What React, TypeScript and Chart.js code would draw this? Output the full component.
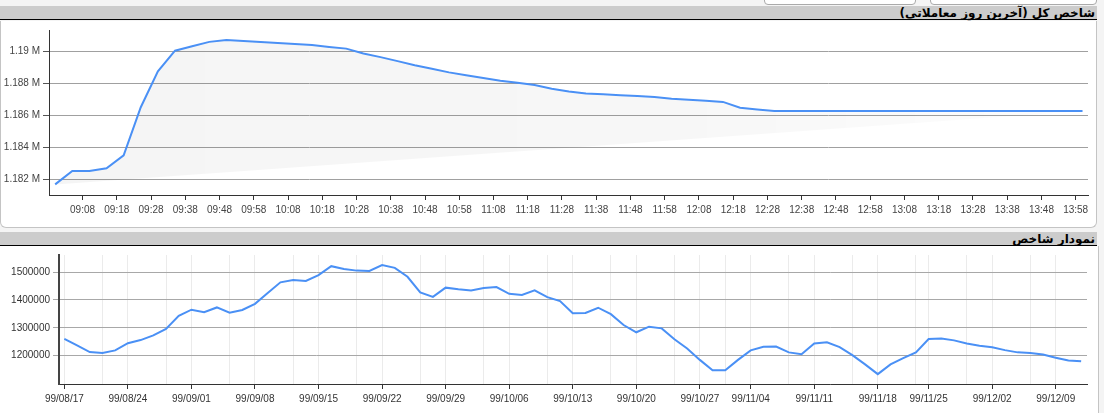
import React, { useEffect, useRef } from 'react';
import { Chart, registerables } from 'chart.js';

Chart.register(...registerables);

const TOP_TITLE = 'شاخص کل (آخرین روز معاملاتی)';
const BOTTOM_TITLE = 'نمودار شاخص';

const INTRADAY_TIMES = [
  '09:00', '09:05', '09:10', '09:15', '09:20', '09:25', '09:30', '09:35', '09:40', '09:45',
  '09:50', '09:55', '10:00', '10:05', '10:10', '10:15', '10:20', '10:25', '10:30', '10:35',
  '10:40', '10:45', '10:50', '10:55', '11:00', '11:05', '11:10', '11:15', '11:20', '11:25',
  '11:30', '11:35', '11:40', '11:45', '11:50', '11:55', '12:00', '12:05', '12:10', '12:15',
  '12:20', '12:25', '12:30', '12:35', '12:40', '12:45', '12:50', '12:55', '13:00', '13:05',
  '13:10', '13:15', '13:20', '13:25', '13:30', '13:35', '13:40', '13:45', '13:50', '13:55',
  '14:00',
];
const INTRADAY_VALUES = [
  1181690, 1182530, 1182530, 1182700, 1183500, 1186500, 1188730, 1190020, 1190300, 1190570,
  1190680, 1190620, 1190560, 1190500, 1190440, 1190370, 1190250, 1190150, 1189850, 1189620,
  1189370, 1189120, 1188900, 1188670, 1188490, 1188320, 1188150, 1188020, 1187880, 1187650,
  1187480, 1187360, 1187310, 1187250, 1187200, 1187130, 1187030, 1186960, 1186900, 1186830,
  1186470, 1186360, 1186270, 1186270, 1186270, 1186270, 1186270, 1186270, 1186270, 1186270,
  1186270, 1186270, 1186270, 1186270, 1186270, 1186270, 1186270, 1186270, 1186270, 1186270,
  1186270,
];
const INTRADAY_TICKS = [
  '09:08', '09:18', '09:28', '09:38', '09:48', '09:58', '10:08', '10:18', '10:28', '10:38',
  '10:48', '10:58', '11:08', '11:18', '11:28', '11:38', '11:48', '11:58', '12:08', '12:18',
  '12:28', '12:38', '12:48', '12:58', '13:08', '13:18', '13:28', '13:38', '13:48', '13:58',
];
const INTRADAY_Y_TICKS = [1182000, 1184000, 1186000, 1188000, 1190000];

const DAILY_DATES = [
  '99/08/17', '99/08/18', '99/08/19', '99/08/20', '99/08/21',
  '99/08/24', '99/08/25', '99/08/26', '99/08/27', '99/08/28',
  '99/09/01', '99/09/02', '99/09/03', '99/09/04', '99/09/05',
  '99/09/08', '99/09/09', '99/09/10', '99/09/11', '99/09/12',
  '99/09/15', '99/09/16', '99/09/17', '99/09/18', '99/09/19',
  '99/09/22', '99/09/23', '99/09/24', '99/09/25', '99/09/26',
  '99/09/29', '99/09/30', '99/10/01', '99/10/02', '99/10/03',
  '99/10/06', '99/10/07', '99/10/08', '99/10/09', '99/10/10',
  '99/10/13', '99/10/14', '99/10/15', '99/10/16', '99/10/17',
  '99/10/20', '99/10/21', '99/10/22', '99/10/23', '99/10/24',
  '99/10/27', '99/10/29', '99/10/30', '99/11/01',
  '99/11/04', '99/11/05', '99/11/06', '99/11/07', '99/11/08',
  '99/11/11', '99/11/12', '99/11/13', '99/11/14', '99/11/15',
  '99/11/18', '99/11/19', '99/11/20', '99/11/21',
  '99/11/25', '99/11/26', '99/11/27', '99/11/28', '99/11/29',
  '99/12/02', '99/12/03', '99/12/04', '99/12/05', '99/12/06',
  '99/12/09', '99/12/10', '99/12/11',
];
const DAILY_VALUES = [
  1260000, 1237000, 1213000, 1210000, 1219000,
  1245000, 1256000, 1273000, 1296000, 1343000,
  1365000, 1356000, 1373000, 1354000, 1364000,
  1386000, 1425000, 1463000, 1471000, 1468000,
  1489000, 1521000, 1511000, 1505000, 1504000,
  1525000, 1515000, 1483000, 1427000, 1411000,
  1444000, 1438000, 1434000, 1443000, 1446000,
  1422000, 1418000, 1434000, 1410000, 1396000,
  1352000, 1353000, 1372000, 1349000, 1310000,
  1284000, 1304000, 1298000, 1259000, 1226000,
  1185000, 1148000, 1148000, 1185000,
  1219000, 1232000, 1233000, 1212000, 1205000,
  1244000, 1248000, 1231000, 1202000, 1169000,
  1134000, 1169000, 1191000, 1212000,
  1260000, 1262000, 1255000, 1244000, 1236000,
  1230000, 1220000, 1212000, 1210000, 1204000,
  1193000, 1183000, 1180000,
];
const DAILY_LABEL_DATES = [
  '99/08/17', '99/08/24', '99/09/01', '99/09/08', '99/09/15', '99/09/22', '99/09/29',
  '99/10/06', '99/10/13', '99/10/20', '99/10/27', '99/11/04', '99/11/11', '99/11/18',
  '99/11/25', '99/12/02', '99/12/09',
];
const DAILY_MINOR_DATES = [
  '99/08/20', '99/08/27', '99/09/04', '99/09/11', '99/09/18', '99/09/25', '99/10/02',
  '99/10/09', '99/10/16', '99/10/23', '99/10/30', '99/11/07', '99/11/14', '99/11/21',
  '99/11/28', '99/12/05',
];
const DAILY_Y_TICKS = [1200000, 1300000, 1400000, 1500000];

const toMin = (t: string) => {
  const [h, m] = t.split(':').map(Number);
  return h * 60 + m;
};
const fmtMin = (v: number) => {
  const h = Math.floor(v / 60);
  const m = Math.round(v - h * 60);
  return `${String(h).padStart(2, '0')}:${String(m).padStart(2, '0')}`;
};

const AXIS_FONT = { family: "'Liberation Sans', Arial, sans-serif", size: 10 };
const LINE_COLOR = '#4a90f5';
const TITLE_FONT = "bold 12px 'DejaVu Sans', sans-serif";

function IntradayChart() {
  const ref = useRef<HTMLCanvasElement>(null);
  useEffect(() => {
    const pts = INTRADAY_TIMES.map((t, i) => ({ x: toMin(t), y: INTRADAY_VALUES[i] }));
    const chord = [pts[0], pts[pts.length - 1]];
    const chart = new Chart(ref.current!, {
      type: 'line',
      data: {
        datasets: [
          {
            data: pts,
            borderColor: LINE_COLOR,
            borderWidth: 2,
            pointRadius: 0,
            fill: '+1',
            backgroundColor: (ctx: any) => {
              const area = ctx.chart.chartArea;
              if (!area) return 'rgba(0,0,0,0.03)';
              const g = ctx.chart.ctx.createLinearGradient(area.left, 0, area.right, 0);
              g.addColorStop(0, 'rgba(0,0,0,0.04)');
              g.addColorStop(0.6, 'rgba(0,0,0,0.03)');
              g.addColorStop(1, 'rgba(0,0,0,0.008)');
              return g;
            },
          },
          {
            data: chord,
            borderWidth: 0,
            borderColor: 'rgba(0,0,0,0)',
            pointRadius: 0,
            fill: false,
          },
        ],
      },
      options: {
        animation: false,
        responsive: false,
        devicePixelRatio: 1,
        layout: { padding: { top: 7, right: 9, left: 0, bottom: 0 } },
        plugins: { legend: { display: false }, tooltip: { enabled: false } },
        scales: {
          x: {
            type: 'linear',
            min: 538.2,
            max: 841.6,
            afterFit: (s: any) => { s.height = 32; },
            afterBuildTicks: (s: any) => { s.ticks = INTRADAY_TICKS.map((t) => ({ value: toMin(t) })); },
            ticks: {
              callback: (v: any) => fmtMin(Number(v)),
              font: AXIS_FONT,
              color: '#444',
              padding: 4,
              maxRotation: 0,
              autoSkip: false,
            },
            grid: { drawOnChartArea: false, drawTicks: true, tickLength: 5, tickColor: '#333' },
            border: { color: '#333', width: 1 },
          },
          y: {
            type: 'linear',
            min: 1181030,
            max: 1191310,
            afterFit: (s: any) => { s.width = 49; },
            afterBuildTicks: (s: any) => { s.ticks = INTRADAY_Y_TICKS.map((v) => ({ value: v })); },
            ticks: {
              callback: (v: any) => `${parseFloat((Number(v) / 1e6).toFixed(4))} M`,
              font: AXIS_FONT,
              color: '#444',
              padding: 3,
            },
            grid: { color: '#a0a0a0', tickLength: 6, tickColor: '#555' },
            border: { color: '#333', width: 1 },
          },
        },
      },
    } as any);
    return () => chart.destroy();
  }, []);
  return (
    <canvas
      ref={ref}
      width={1097}
      height={206}
      style={{ position: 'absolute', left: 0, top: 21, width: 1097, height: 206 }}
    />
  );
}

function DailyChart() {
  const ref = useRef<HTMLCanvasElement>(null);
  useEffect(() => {
    const pts = DAILY_DATES.map((d, i) => ({ x: i, y: DAILY_VALUES[i] }));
    const isMajor = (i: number) => DAILY_LABEL_DATES.includes(DAILY_DATES[i]);
    const isMinor = (i: number) => DAILY_MINOR_DATES.includes(DAILY_DATES[i]);
    const chart = new Chart(ref.current!, {
      type: 'line',
      data: {
        datasets: [
          {
            data: pts,
            borderColor: LINE_COLOR,
            borderWidth: 2,
            pointRadius: 0,
            fill: false,
          },
        ],
      },
      options: {
        animation: false,
        responsive: false,
        devicePixelRatio: 1,
        layout: { padding: { top: 9, right: 10, left: 0, bottom: 0 } },
        plugins: { legend: { display: false }, tooltip: { enabled: false } },
        scales: {
          x: {
            type: 'linear',
            min: -0.42,
            max: 80.46,
            afterFit: (s: any) => { s.height = 29; },
            afterBuildTicks: (s: any) => {
              s.ticks = DAILY_DATES.map((d, i) => i)
                .filter((i) => isMajor(i) || isMinor(i))
                .map((i) => ({ value: i }));
            },
            ticks: {
              callback: (v: any) => (isMajor(Number(v)) ? DAILY_DATES[Number(v)] : ''),
              font: AXIS_FONT,
              color: '#333',
              padding: 4,
              maxRotation: 0,
              autoSkip: false,
            },
            grid: {
              color: '#ebebeb',
              drawTicks: true,
              tickLength: 5,
              tickColor: (ctx: any) => (ctx.tick && isMajor(ctx.tick.value) ? '#333' : 'rgba(0,0,0,0)'),
            },
            border: { color: '#333', width: 1 },
          },
          y: {
            type: 'linear',
            min: 1098600,
            max: 1561000,
            afterFit: (s: any) => { s.width = 59; },
            afterBuildTicks: (s: any) => { s.ticks = DAILY_Y_TICKS.map((v) => ({ value: v })); },
            ticks: {
              callback: (v: any) => String(v),
              font: AXIS_FONT,
              color: '#333',
              padding: 3,
            },
            grid: { color: '#a8a8a8', tickLength: 6, tickColor: '#a8a8a8' },
            border: { color: '#444', width: 2 },
          },
        },
      },
    } as any);
    return () => chart.destroy();
  }, []);
  return (
    <canvas
      ref={ref}
      width={1097}
      height={167}
      style={{ position: 'absolute', left: 0, top: 246, width: 1097, height: 167 }}
    />
  );
}

const headerStyle = (top: number): React.CSSProperties => ({
  position: 'absolute',
  left: 0,
  top,
  width: 1097,
  height: 14,
  background: '#cccccc',
  borderBottom: '1.5px solid #000',
  direction: 'rtl',
  textAlign: 'right',
  font: TITLE_FONT,
  lineHeight: '15px',
  color: '#000',
  paddingRight: 2,
  boxSizing: 'border-box',
  whiteSpace: 'nowrap',
  overflow: 'visible',
});

export default function App() {
  return (
    <div
      style={{
        position: 'relative',
        width: 1104,
        height: 413,
        overflow: 'hidden',
        background: '#f4f4f4',
      }}
    >
      <style>{'body{margin:0}'}</style>
      <div
        style={{
          position: 'absolute', left: 764, top: -10, width: 150, height: 13,
          background: '#fff', border: '1px solid #aaa', borderRadius: 4,
        }}
      />
      <div
        style={{
          position: 'absolute', left: 930, top: -10, width: 165, height: 13,
          background: '#fff', border: '1px solid #aaa', borderRadius: 4,
        }}
      />
      <div style={headerStyle(6)}>{TOP_TITLE}</div>
      <div
        style={{
          position: 'absolute', left: 0, top: 21, width: 1097, height: 207,
          background: '#fff', border: '1px solid #c4c4c4', borderTop: 'none',
          borderRadius: '0 0 6px 6px', boxSizing: 'border-box',
        }}
      />
      <IntradayChart />
      <div style={headerStyle(232)}>{BOTTOM_TITLE}</div>
      <div
        style={{
          position: 'absolute', left: 0, top: 246, width: 1099, height: 180,
          background: '#fff', borderRight: '1px solid #c4c4c4', boxSizing: 'border-box',
        }}
      />
      <DailyChart />
    </div>
  );
}
